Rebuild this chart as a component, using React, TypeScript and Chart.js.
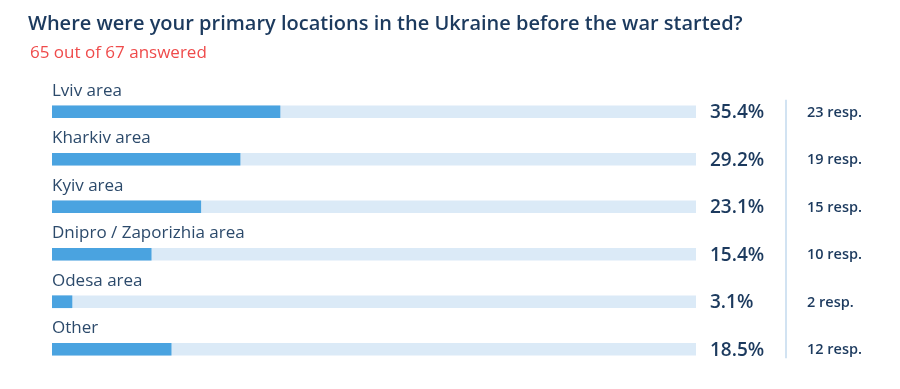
import React, { useEffect, useRef } from "react";
import { Chart, registerables } from "chart.js";

Chart.register(...registerables);

const TITLE = "Where were your primary locations in the Ukraine before the war started?";
const SUBTITLE = "65 out of 67 answered";
const categories = ["Lviv area", "Kharkiv area", "Kyiv area", "Dnipro / Zaporizhia area", "Odesa area", "Other"];
const percents = [35.4, 29.2, 23.1, 15.4, 3.1, 18.5];
const responses = [23, 19, 15, 10, 2, 12];
const trackValues = [100, 100, 100, 100, 100, 100];

const FONT = "'Open Sans', 'DejaVu Sans', sans-serif";
const NAVY = "#1c3a5e";

const overlayPlugin = {
  id: "overlay",
  afterDatasetsDraw(chart: any) {
    const ctx = chart.ctx;
    const y = chart.scales.y;
    const area = chart.chartArea;
    ctx.save();
    ctx.textBaseline = "alphabetic";
    ctx.textAlign = "left";
    ctx.fillStyle = NAVY;
    ctx.font = `600 20px ${FONT}`;
    ctx.fillText(TITLE, 28, 30);
    ctx.fillStyle = "#ef4b4b";
    ctx.font = `400 17px ${FONT}`;
    ctx.fillText(SUBTITLE, 30, 58);

    categories.forEach((c, i) => {
      const cy = y.getPixelForValue(i);
      ctx.textBaseline = "alphabetic";
      ctx.textAlign = "left";
      ctx.fillStyle = "#2c4a6b";
      ctx.font = `400 17px ${FONT}`;
      ctx.fillText(c, area.left, cy - 16);

      ctx.textBaseline = "middle";
      ctx.fillStyle = NAVY;
      ctx.font = `600 19px ${FONT}`;
      ctx.fillText(percents[i].toFixed(1) + "%", area.right + 14, cy + 1);

      ctx.font = `600 14.5px ${FONT}`;
      ctx.fillText(responses[i] + " resp.", area.right + 111, cy + 1);
    });

    const top = y.getPixelForValue(0) - 12;
    const bottom = y.getPixelForValue(categories.length - 1) + 9;
    ctx.strokeStyle = "#c3daee";
    ctx.lineWidth = 1.5;
    ctx.beginPath();
    ctx.moveTo(area.right + 90, top);
    ctx.lineTo(area.right + 90, bottom);
    ctx.stroke();
    ctx.restore();
  },
};

export default function App() {
  const ref = useRef<HTMLCanvasElement>(null);
  useEffect(() => {
    document.body.style.margin = "0";
    const chart = new Chart(ref.current!, {
      type: "bar",
      data: {
        labels: categories,
        datasets: [
          {
            data: percents,
            backgroundColor: "#4aa3e0",
            barThickness: 12,
            borderWidth: 0,
            order: 1,
          },
          {
            data: trackValues,
            backgroundColor: "#dbeaf7",
            barThickness: 12,
            borderWidth: 0,
            order: 2,
          },
        ],
      },
      options: {
        indexAxis: "y",
        animation: false,
        responsive: false,
        maintainAspectRatio: false,
        layout: { padding: { top: 88, left: 52, right: 204, bottom: 16 } },
        datasets: { bar: { grouped: false } },
        scales: {
          x: { display: false, min: 0, max: 100 },
          y: { display: false },
        },
        plugins: {
          legend: { display: false },
          tooltip: { enabled: false },
          title: { display: false },
        },
      } as any,
      plugins: [overlayPlugin],
    });
    return () => chart.destroy();
  }, []);
  return (
    <div style={{ width: 900, height: 389, background: "#fff" }}>
      <canvas ref={ref} width={900} height={389} style={{ display: "block" }} />
    </div>
  );
}
